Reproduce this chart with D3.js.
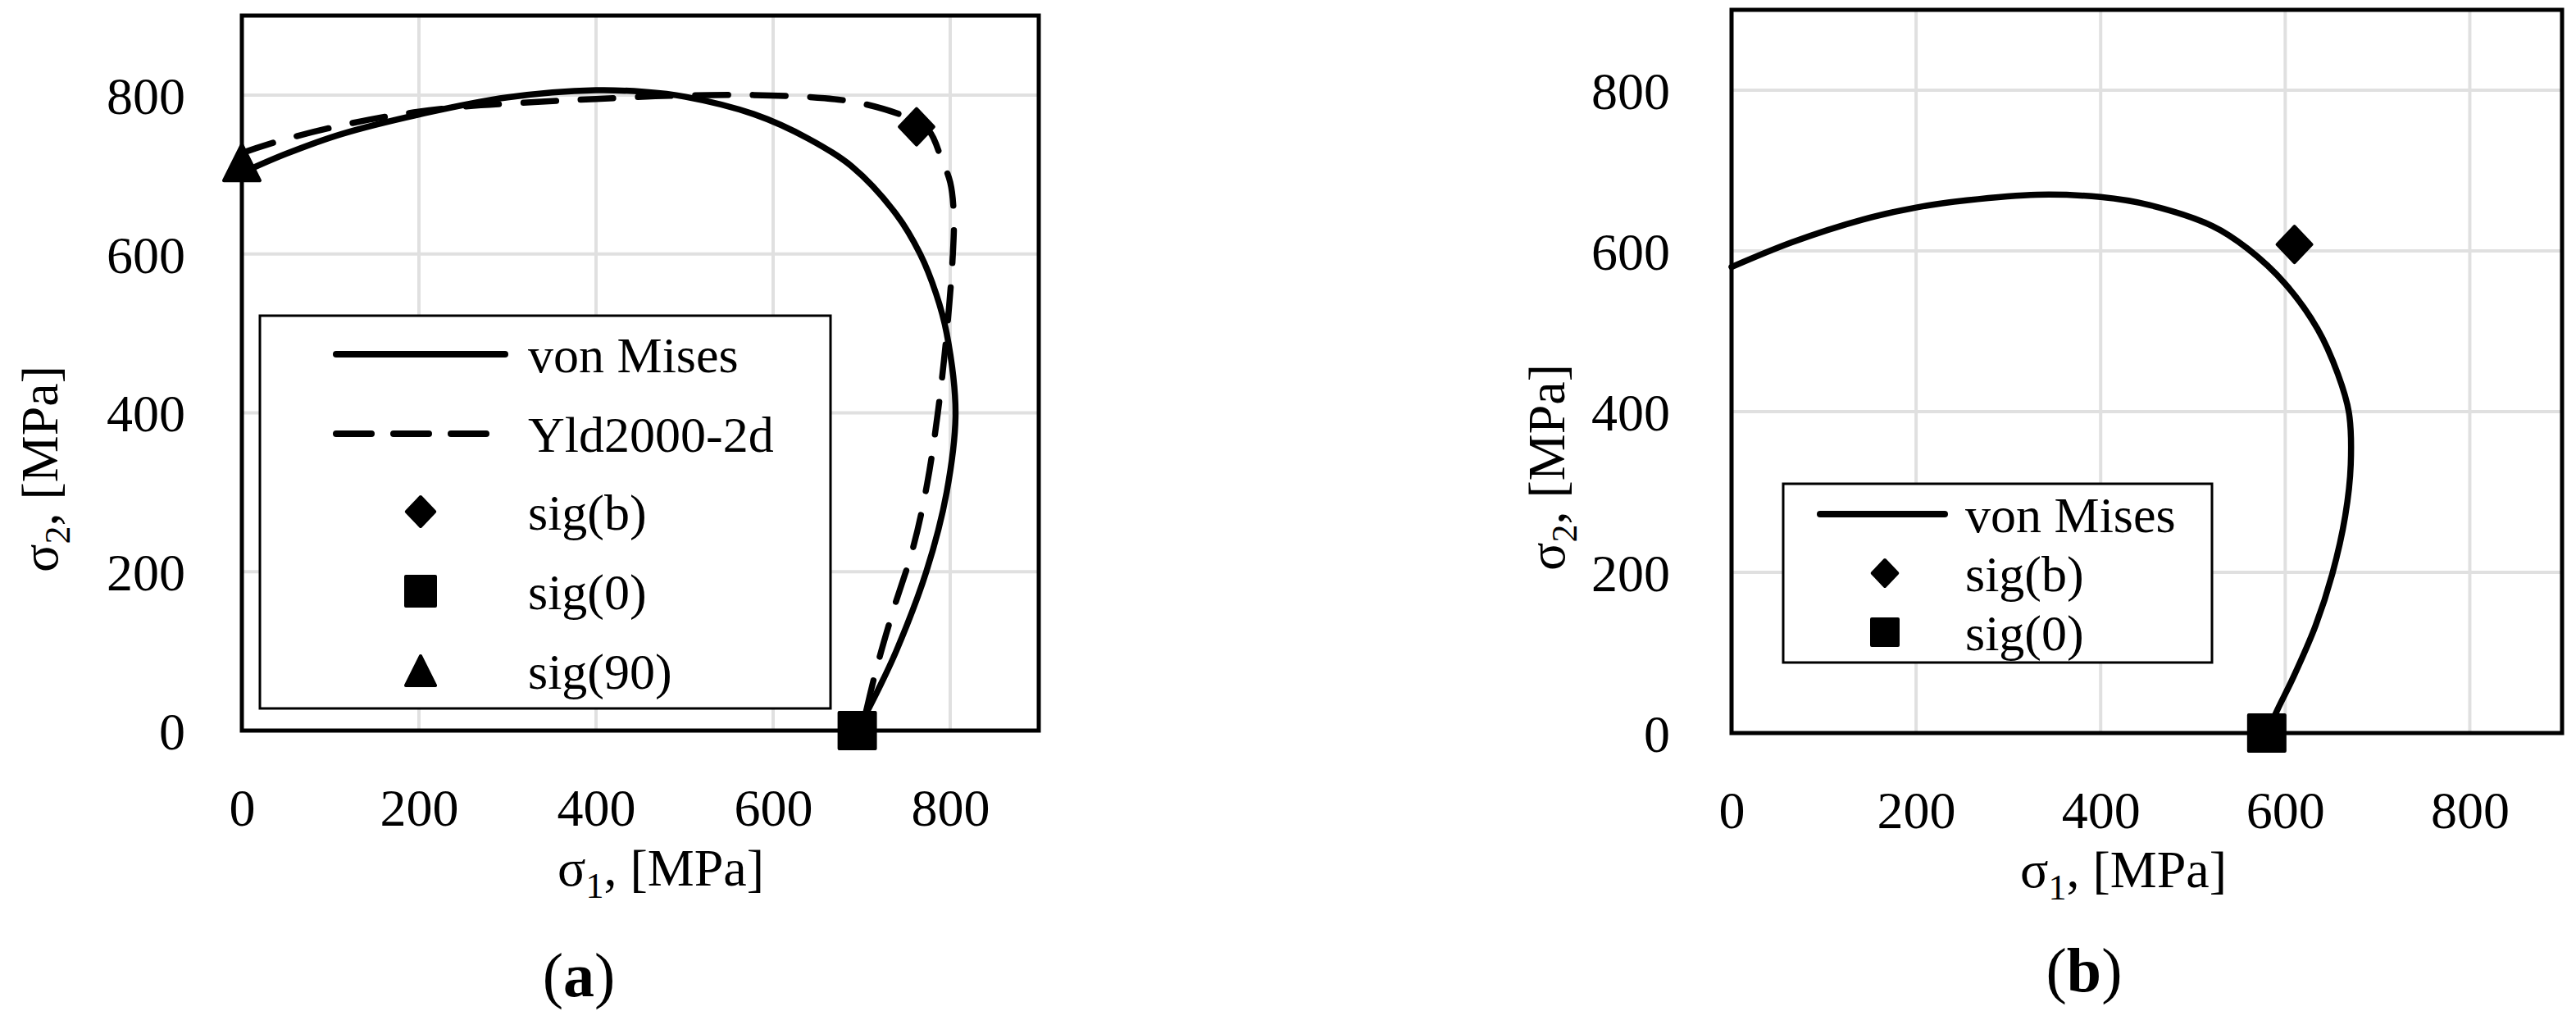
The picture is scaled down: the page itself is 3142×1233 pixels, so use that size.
<!DOCTYPE html>
<html>
<head>
<meta charset="utf-8">
<script src="https://cdn.jsdelivr.net/npm/d3@7"></script>
<style>
  body { margin: 0; background: #fff; }
  svg { display: block; }
  text { font-family: "Palatino Linotype", "Book Antiqua", Palatino, "Liberation Serif", serif; fill: #000; }
</style>
</head>
<body>
<svg id="chart" width="3142" height="1233"></svg>
<script>

// Axis ticks (both axes, both panels)
const tickValues = [0, 200, 400, 600, 800];
const axisMax = 900;

// Panel (a): yield loci [sigma1, sigma2] in MPa
const vonMisesA = [[0, 702], [50, 726], [113, 751], [206, 777], [300, 797], [400, 806], [454, 804],
    [500, 798], [578, 776], [640, 745], [689, 710], [739, 650], [766, 600], [784, 550], [796, 500],
    [806, 400], [796, 300], [773, 200], [739, 100], [718, 50], [695, 0]];
const yld2000A = [[0, 727], [51, 745], [144, 769], [237, 784], [330, 791], [400, 795], [485, 799],
    [578, 800], [658, 796], [702, 789], [751, 772], [776, 755], [790, 720], [800, 690], [804, 650],
    [803, 600], [796, 500], [786, 400], [774, 311], [758, 230], [735, 149], [716, 75], [700, 0]];
const sigBA = [762, 760];
const sig0A = [695, 0];
const sig90A = [0, 715];

// Panel (b)
const vonMisesB = [[0, 580], [66, 611], [142, 639], [200, 654], [255, 663], [331, 670], [400, 667],
    [453, 657], [521, 631], [559, 603], [600, 559], [635, 503], [657, 447], [669, 399], [671, 334],
    [665, 270], [651, 198], [633, 134], [609, 70], [592, 30], [580, 0]];
const sigBB = [610, 608];
const sig0B = [580, 0];

const svg = d3.select("#chart");

/** Marker outline centred on (0,0), size = overall height */
function markerPath(type, size) {
    const h = size / 2, p = d3.path();
    if (type === "diamond") {
        p.moveTo(0, -h); p.lineTo(h * 0.95, 0); p.lineTo(0, h); p.lineTo(-h * 0.95, 0);
    } else if (type === "square") {
        p.rect(-h, -h, size, size);
    } else {
        p.moveTo(0, -h); p.lineTo(h, h); p.lineTo(-h, h);
    }
    p.closePath();
    return p.toString();
}

function drawMarker(g, type, cx, cy, size) {
    g.append("path")
        .attr("d", markerPath(type, size - 4))
        .attr("transform", `translate(${cx},${cy})`)
        .attr("fill", "#000")
        .attr("stroke", "#000")
        .attr("stroke-width", 4)
        .attr("stroke-linejoin", "round");
}

function drawPanel(p) {
    const g = svg.append("g");

    const x = d3.scaleLinear().domain([0, axisMax]).range([p.left, p.right]);
    const y = d3.scaleLinear().domain([0, axisMax]).range([p.bottom, p.top]);

    // Gridlines
    g.append("g").selectAll("line").data(tickValues.slice(1)).join("line")
        .attr("x1", d => x(d)).attr("x2", d => x(d))
        .attr("y1", p.top).attr("y2", p.bottom)
        .attr("stroke", "#e0e0e0").attr("stroke-width", 4);
    g.append("g").selectAll("line").data(tickValues.slice(1)).join("line")
        .attr("y1", d => y(d)).attr("y2", d => y(d))
        .attr("x1", p.left).attr("x2", p.right)
        .attr("stroke", "#e0e0e0").attr("stroke-width", 4);

    // Axes (labels only)
    const ax = g.append("g")
        .attr("transform", `translate(0,${p.bottom})`)
        .call(d3.axisBottom(x).tickValues(tickValues).tickSize(0));
    ax.select(".domain").remove();
    ax.selectAll("text").attr("y", p.xLabelY - p.bottom).attr("dy", "0.35em")
        .style("font-size", "64px").attr("font-family", null);

    const ay = g.append("g")
        .attr("transform", `translate(${p.left},0)`)
        .call(d3.axisLeft(y).tickValues(tickValues).tickSize(0));
    ay.select(".domain").remove();
    ay.selectAll("text").attr("x", p.yLabelRight - p.left).attr("dy", "0.35em")
        .style("font-size", "64px").attr("font-family", null);

    // Axis titles
    const xt = g.append("text")
        .attr("x", p.xTitleX).attr("y", p.xTitleY)
        .attr("text-anchor", "middle").style("font-size", "64px");
    xt.append("tspan").text("σ");
    xt.append("tspan").text("1").attr("dy", 15).style("font-size", "44px");
    xt.append("tspan").text(", [MPa]").attr("dy", -15);

    const yt = g.append("text")
        .attr("transform", `translate(${p.yTitleX},${p.yTitleY}) rotate(-90)`)
        .attr("text-anchor", "middle").style("font-size", "64px");
    yt.append("tspan").text("σ");
    yt.append("tspan").text("2").attr("dy", 15).style("font-size", "44px");
    yt.append("tspan").text(", [MPa]").attr("dy", -15);

    // Caption
    const cap = g.append("text")
        .attr("x", p.captionX).attr("y", p.captionY)
        .attr("text-anchor", "middle").attr("dy", "0.35em").style("font-size", "76px");
    cap.append("tspan").text("(");
    cap.append("tspan").text(p.caption).attr("font-weight", "bold");
    cap.append("tspan").text(")");

    // Curves
    const line = d3.line().x(d => x(d[0])).y(d => y(d[1])).curve(d3.curveCatmullRom.alpha(0.5));
    p.curves.forEach(c => {
        g.append("path")
            .attr("d", line(c.data))
            .attr("fill", "none").attr("stroke", "#000")
            .attr("stroke-width", 7.5).attr("stroke-linecap", "round")
            .attr("stroke-dasharray", c.dashed ? "40,30" : null);
    });

    // Plot border
    g.append("rect")
        .attr("x", p.left).attr("y", p.top)
        .attr("width", p.right - p.left).attr("height", p.bottom - p.top)
        .attr("fill", "none").attr("stroke", "#000").attr("stroke-width", 5);

    // Data markers
    p.markers.forEach(m => drawMarker(g, m.type, x(m.data[0]), y(m.data[1]), 48));

    // Legend
    const L = p.legend;
    g.append("rect")
        .attr("x", L.x0).attr("y", L.y0)
        .attr("width", L.x1 - L.x0).attr("height", L.y1 - L.y0)
        .attr("fill", "#fff").attr("stroke", "#000").attr("stroke-width", 3);
    L.items.forEach((it, i) => {
        const ry = L.rows[i];
        if (it.kind === "line") {
            g.append("line")
                .attr("x1", L.lineX0).attr("x2", L.lineX1).attr("y1", ry).attr("y2", ry)
                .attr("stroke", "#000").attr("stroke-width", 8).attr("stroke-linecap", "round")
                .attr("stroke-dasharray", it.dashed ? "43,27" : null);
        } else {
            drawMarker(g, it.kind, L.markerX, ry, L.markerSize);
        }
        g.append("text")
            .attr("x", L.textX).attr("y", ry).attr("dy", "0.35em")
            .style("font-size", "62px").text(it.label);
    });
}

drawPanel({
    left: 295, right: 1267, top: 19, bottom: 891,
    xLabelY: 985, yLabelRight: 226,
    xTitleX: 806, xTitleY: 1080, yTitleX: 70, yTitleY: 572,
    caption: "a", captionX: 706, captionY: 1188,
    curves: [{ data: vonMisesA, dashed: false }, { data: yld2000A, dashed: true }],
    markers: [{ type: "diamond", data: sigBA }, { type: "square", data: sig0A }, { type: "triangle", data: sig90A }],
    legend: {
        x0: 317, x1: 1013, y0: 385, y1: 864,
        rows: [432, 529, 624, 721, 818],
        lineX0: 410, lineX1: 616, markerX: 513, markerSize: 40, textX: 644,
        items: [
            { kind: "line", dashed: false, label: "von Mises" },
            { kind: "line", dashed: true, label: "Yld2000-2d" },
            { kind: "diamond", label: "sig(b)" },
            { kind: "square", label: "sig(0)" },
            { kind: "triangle", label: "sig(90)" }
        ]
    }
});

drawPanel({
    left: 2112, right: 3125, top: 12, bottom: 894,
    xLabelY: 988, yLabelRight: 2037,
    xTitleX: 2590, xTitleY: 1082, yTitleX: 1908, yTitleY: 570,
    caption: "b", captionX: 2542, captionY: 1182,
    curves: [{ data: vonMisesB, dashed: false }],
    markers: [{ type: "diamond", data: sigBB }, { type: "square", data: sig0B }],
    legend: {
        x0: 2175, x1: 2698, y0: 590, y1: 808,
        rows: [627, 699, 771],
        lineX0: 2220, lineX1: 2372, markerX: 2299, markerSize: 36, textX: 2397,
        items: [
            { kind: "line", dashed: false, label: "von Mises" },
            { kind: "diamond", label: "sig(b)" },
            { kind: "square", label: "sig(0)" }
        ]
    }
});

</script>
</body>
</html>
